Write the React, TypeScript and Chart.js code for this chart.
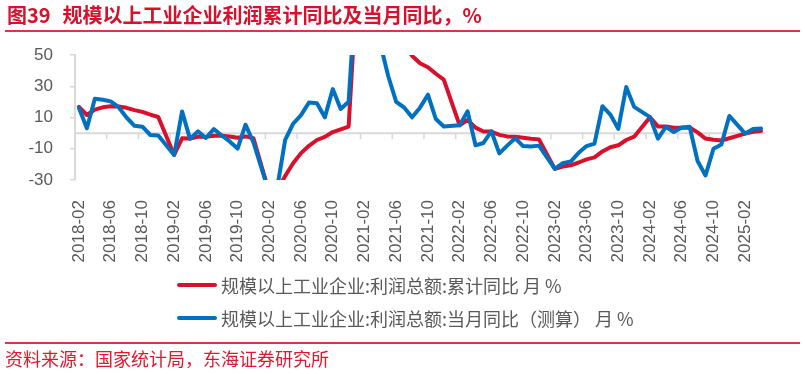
import React, { useEffect, useRef } from "react";
import { Chart, registerables } from "chart.js";

Chart.register(...registerables);

const categories: string[] = [
  "2018-02","2018-03","2018-04","2018-05","2018-06","2018-07","2018-08","2018-09","2018-10","2018-11","2018-12",
  "2019-01","2019-02","2019-03","2019-04","2019-05","2019-06","2019-07","2019-08","2019-09","2019-10","2019-11","2019-12",
  "2020-01","2020-02","2020-03","2020-04","2020-05","2020-06","2020-07","2020-08","2020-09","2020-10","2020-11","2020-12",
  "2021-01","2021-02","2021-03","2021-04","2021-05","2021-06","2021-07","2021-08","2021-09","2021-10","2021-11","2021-12",
  "2022-01","2022-02","2022-03","2022-04","2022-05","2022-06","2022-07","2022-08","2022-09","2022-10","2022-11","2022-12",
  "2023-01","2023-02","2023-03","2023-04","2023-05","2023-06","2023-07","2023-08","2023-09","2023-10","2023-11","2023-12",
  "2024-01","2024-02","2024-03","2024-04","2024-05","2024-06","2024-07","2024-08","2024-09","2024-10","2024-11","2024-12",
  "2025-01","2025-02","2025-03","2025-04",
];

// 规模以上工业企业:利润总额:累计同比 (%)
const cumulativeYoY: (number | null)[] = [
  16.8, 11.6, 15.0, 16.5, 17.2, 17.1, 16.2, 14.7, 13.6, 11.8, 10.3,
  null, -14.0, -3.3, -3.4, -2.3, -2.4, -1.7, -1.7, -2.1, -2.9, -2.1, -3.3,
  null, -38.3, -36.7, -27.4, -19.3, -12.8, -8.1, -4.4, -2.4, 0.7, 2.4, 4.1,
  null, 178.9, 137.3, 106.0, 83.4, 66.9, 57.3, 49.5, 44.7, 42.2, 38.0, 34.3,
  null, 5.0, 8.5, 3.5, 1.0, 1.0, -1.1, -2.1, -2.3, -3.0, -3.6, -4.0,
  null, -22.9, -21.4, -20.6, -18.8, -16.8, -15.5, -11.7, -9.0, -7.8, -4.4, -2.3,
  null, 10.2, 4.3, 4.3, 3.4, 3.5, 3.6, 0.5, -3.5, -4.3, -4.7, -3.3,
  null, -0.3, 0.8, 1.4,
];

// 规模以上工业企业:利润总额:当月同比（测算）(%)
const monthlyYoY: (number | null)[] = [
  16.1, 3.1, 22.0, 21.4, 20.3, 16.6, 10.0, 4.7, 4.1, -1.2, -1.5,
  null, -14.0, 13.9, -3.7, 1.1, -3.1, 2.6, -1.5, -5.3, -9.9, 5.4, -6.0,
  null, -38.3, -34.9, -4.3, 6.0, 11.5, 19.6, 19.1, 10.1, 28.2, 15.5, 20.1,
  null, 178.9, 92.3, 57.0, 36.4, 20.0, 16.4, 10.1, 16.3, 24.6, 9.0, 4.2,
  null, 5.0, 14.0, -7.8, -6.3, 1.2, -13.0, -8.0, -3.3, -8.3, -8.5, -8.0,
  null, -22.9, -19.2, -18.2, -12.6, -8.3, -6.7, 17.2, 11.9, 2.7, 29.5, 16.8,
  null, 10.2, -3.5, 4.0, 0.7, 3.6, 4.1, -17.8, -27.1, -10.0, -7.3, 11.0,
  null, -0.3, 2.6, 3.0,
];

const seriesNames = [
  "规模以上工业企业:利润总额:累计同比 月 %",
  "规模以上工业企业:利润总额:当月同比（测算） 月 %",
];

const yMin = -30;
const yMax = 50;
const yStep = 20;
const labelEvery = 4;

const RED = "#d8102b";
const BLUE = "#0070c0";
const AXIS = "#d9d9d9";
const TEXT = "#595959";
const LATIN = '"Liberation Sans", Arial, "Noto Sans CJK SC", sans-serif';
const CJK = '"Noto Sans CJK SC", "Liberation Sans", sans-serif';

const zeroLinePlugin = {
  id: "zeroLine",
  beforeDatasetsDraw(chart: any) {
    const { ctx, chartArea, scales } = chart;
    const x = scales.x;
    const y = scales.y;
    const y0 = y.getPixelForValue(0);
    ctx.save();
    ctx.strokeStyle = AXIS;
    ctx.lineWidth = 2;
    ctx.beginPath();
    ctx.moveTo(chartArea.left, y0);
    ctx.lineTo(chartArea.right, y0);
    ctx.stroke();
    ctx.lineWidth = 1.5;
    ctx.beginPath();
    for (let i = labelEvery; i < categories.length; i += labelEvery) {
      const px = (x.getPixelForValue(i - 1) + x.getPixelForValue(i)) / 2;
      ctx.moveTo(px, y0);
      ctx.lineTo(px, y0 + 6);
    }
    ctx.stroke();
    ctx.restore();
  },
};

export default function App() {
  const canvasRef = useRef<HTMLCanvasElement | null>(null);

  useEffect(() => {
    document.body.style.margin = "0";
    const canvas = canvasRef.current;
    if (!canvas) return;
    const chart = new Chart(canvas, {
      type: "line",
      data: {
        labels: categories,
        datasets: [
          {
            label: seriesNames[0],
            data: cumulativeYoY,
            borderColor: RED,
            backgroundColor: RED,
            borderWidth: 4,
            pointRadius: 0,
            tension: 0,
            spanGaps: true,
            borderJoinStyle: "round",
            borderCapStyle: "round",
            order: 1,
          },
          {
            label: seriesNames[1],
            data: monthlyYoY,
            borderColor: BLUE,
            backgroundColor: BLUE,
            borderWidth: 4,
            pointRadius: 0,
            tension: 0,
            spanGaps: true,
            borderJoinStyle: "round",
            borderCapStyle: "round",
            order: 0,
          },
        ],
      },
      options: {
        animation: false,
        responsive: false,
        maintainAspectRatio: false,
        layout: { padding: { top: 55, right: 40, left: 0, bottom: 0 } },
        plugins: {
          legend: { display: false },
          tooltip: { enabled: false },
          title: { display: false },
        },
        scales: {
          x: {
            type: "category",
            offset: true,
            grid: { display: false, offset: true },
            border: { display: false },
            ticks: {
              autoSkip: false,
              maxRotation: 90,
              minRotation: 90,
              padding: 12,
              color: TEXT,
              font: { family: LATIN, size: 17 },
              callback: (_v: any, idx: number) =>
                idx % labelEvery === 0 ? categories[idx] : null,
            },
            afterFit: (scale: any) => {
              scale.height = 194;
            },
          },
          y: {
            min: yMin,
            max: yMax,
            grid: {
              drawOnChartArea: false,
              drawTicks: true,
              tickLength: 5,
              color: AXIS,
              lineWidth: 1.5,
            },
            border: { display: true, color: AXIS, width: 2 },
            ticks: {
              stepSize: yStep,
              padding: 17,
              color: TEXT,
              font: { family: LATIN, size: 17 },
            },
            afterFit: (scale: any) => {
              scale.width = 75;
            },
          },
        },
      },
      plugins: [zeroLinePlugin],
    } as any);
    return () => chart.destroy();
  }, []);

  const legendRow = (color: string, text: string, cy: number) => (
    <div
      style={{
        position: "absolute",
        left: 177,
        top: cy - 11,
        height: 22,
        display: "flex",
        alignItems: "center",
        whiteSpace: "pre",
      }}
    >
      <div style={{ width: 40, height: 4, background: color, borderRadius: 2 }} />
      <span
        style={{
          marginLeft: 4,
          fontFamily: CJK,
          fontSize: 18,
          lineHeight: "22px",
          color: TEXT,
        }}
      >
        {text}
      </span>
    </div>
  );

  return (
    <div
      style={{
        position: "relative",
        width: 805,
        height: 374,
        background: "#ffffff",
        overflow: "hidden",
      }}
    >
      <canvas
        ref={canvasRef}
        width={805}
        height={374}
        style={{ position: "absolute", left: 0, top: 0, width: 805, height: 374 }}
      />
      <div
        style={{
          position: "absolute",
          left: 7,
          top: 4,
          fontFamily: CJK,
          fontWeight: 700,
          fontSize: 20,
          lineHeight: "22px",
          color: RED,
          whiteSpace: "pre",
        }}
      >
        图39<span style={{ marginLeft: 12 }}>规模以上工业企业利润累计同比及当月同比，%</span>
      </div>
      <div
        style={{
          position: "absolute",
          left: 5,
          top: 30,
          width: 795,
          height: 2,
          background: "#e03346",
        }}
      />
      {legendRow(RED, seriesNames[0], 285)}
      {legendRow(BLUE, seriesNames[1], 318)}
      <div
        style={{
          position: "absolute",
          left: 5,
          top: 342,
          width: 795,
          height: 2,
          background: "#e03346",
        }}
      />
      <div
        style={{
          position: "absolute",
          left: 5,
          top: 347,
          fontFamily: CJK,
          fontSize: 18,
          lineHeight: "22px",
          color: "#e0182f",
          whiteSpace: "pre",
        }}
      >
        资料来源：国家统计局，东海证券研究所
      </div>
    </div>
  );
}
